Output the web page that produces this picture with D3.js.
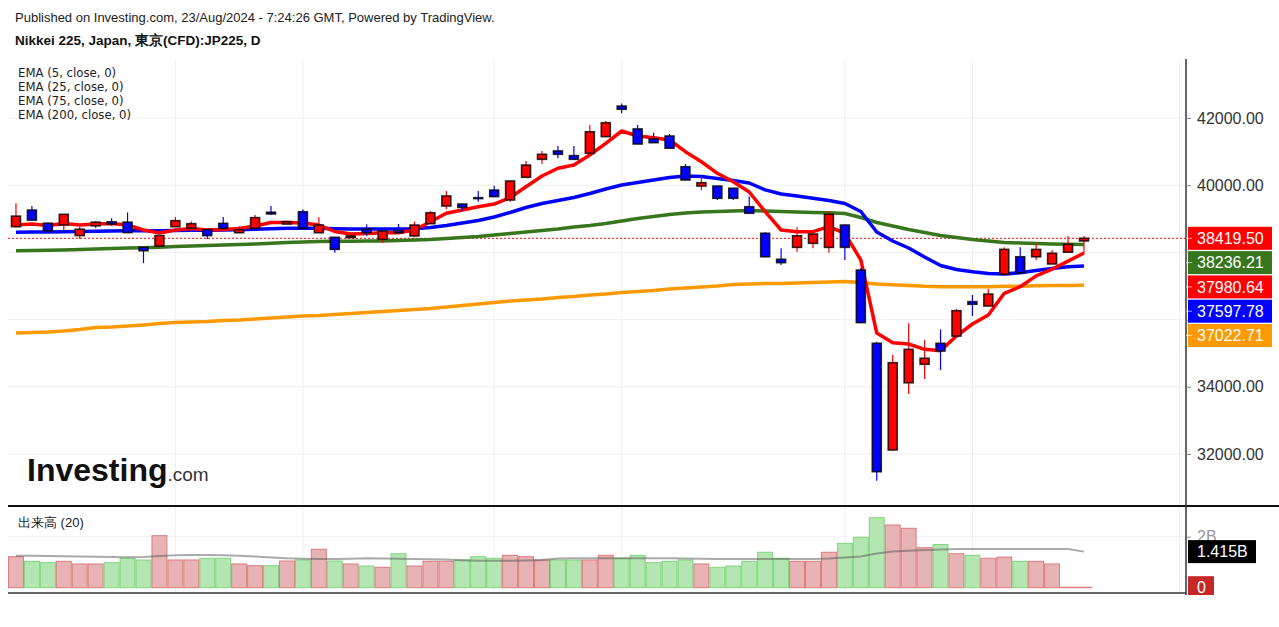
<!DOCTYPE html>
<html lang="ja">
<head>
  <meta charset="UTF-8">
  <title>Nikkei 225 JP225 Daily</title>
  <script src="https://d3js.org/d3.v7.min.js"></script>
  <style>
    body {
      margin: 0;
      background: #fff;
      font-family: "Liberation Sans", Arial, sans-serif;
    }
    svg { display: block; }
    .grid line { stroke: #f0f0f0; stroke-width: 1; }
    .legend text { font-family: "DejaVu Sans Condensed", "DejaVu Sans", sans-serif; font-size: 13px; fill: #222; }
  </style>
</head>
<body>
  <svg width="1279" height="627"></svg>

  <script>
    // daily bars, 20/May/2024 .. 23/Aug/2024 (index 0..67)
    const opens = [38765, 39260, 38870, 38815, 38500, 38790, 38910, 38900, 38150, 38190,
      38765, 38720, 38675, 38865, 38585, 38720, 39195, 38845, 39210, 38585,
      38450, 38440, 38690, 38390, 38645, 38490, 38855, 39380, 39440, 39630,
      39855, 39560, 40235, 40770, 41020, 40880, 40950, 41445, 42355, 41675,
      41375, 41465, 40550, 39975, 39975, 39910, 39360, 38570, 37795, 38150,
      38270, 38150, 38815, 37475, 35295, 32120, 34120, 34670, 35295, 35510,
      36535, 36405, 37350, 37870, 37870, 37655, 38005, 38340];
    const highs = [39460, 39380, 38880, 39140, 38765, 38930, 39015, 39190, 38160, 38500,
      39055, 38925, 38680, 39055, 38785, 39115, 39380, 38930, 39285, 39045,
      38460, 38500, 38835, 38640, 38845, 38915, 39230, 39825, 39450, 39825,
      39985, 40130, 40720, 41020, 41165, 41165, 41790, 41910, 42435, 41790,
      41565, 41525, 40630, 40255, 39980, 39915, 39660, 38600, 38120, 38745,
      38550, 39230, 38830, 37535, 35340, 34945, 35890, 35390, 35710, 36315,
      36730, 36910, 38150, 38150, 38270, 38070, 38490, 38490];
    const lows = [38750, 38960, 38630, 38670, 38400, 38720, 38795, 38585, 37680, 38120,
      38760, 38615, 38400, 38715, 38580, 38715, 39110, 38830, 38715, 38580,
      37990, 38430, 38490, 38290, 38580, 38450, 38850, 39285, 39240, 39510,
      39650, 39510, 40230, 40630, 40800, 40765, 40940, 41440, 42140, 41220,
      41260, 41095, 40150, 39855, 39560, 39560, 39160, 37870, 37625, 38020,
      38120, 37990, 37775, 35900, 31205, 32100, 33785, 34230, 34500, 35500,
      36105, 36400, 37340, 37390, 37775, 37650, 38000, 37980];
    const closes = [39080, 38960, 38640, 39134, 38690, 38900, 38845, 38590, 38050, 38500,
      38945, 38855, 38500, 38715, 38675, 39035, 39145, 38915, 38720, 38815,
      38090, 38490, 38585, 38637, 38585, 38815, 39180, 39680, 39340, 39625,
      39660, 40125, 40600, 40920, 40920, 40770, 41590, 41860, 42260, 41225,
      41265, 41100, 40155, 40075, 39610, 39610, 39165, 37870, 37695, 38495,
      38548, 39135, 38150, 35910, 31473, 34717, 35115, 34850, 35065, 36265,
      36455, 36760, 38090, 37395, 38090, 37975, 38240, 38419.5];

    // EMA values
    const ema5 = [38815, 38845, 38800, 38860, 38815, 38845, 38860, 38815, 38667, 38577,
      38667, 38711, 38667, 38682, 38711, 38786, 38890, 38890, 38875, 38815,
      38622, 38548, 38562, 38586, 38586, 38667, 38914, 39164, 39262, 39360,
      39440, 39634, 39955, 40274, 40503, 40601, 40899, 41247, 41613, 41464,
      41414, 41345, 40997, 40699, 40354, 40104, 39798, 39211, 38667, 38616,
      38616, 38765, 38568, 37774, 35601, 35312, 35274, 35116, 35074, 35512,
      35869, 36137, 36783, 36979, 37300, 37500, 37740, 37980.64];
    const ema25 = [38598, 38607, 38607, 38616, 38622, 38628, 38637, 38646, 38646, 38646,
      38652, 38658, 38658, 38667, 38676, 38687, 38705, 38717, 38717, 38717,
      38705, 38696, 38696, 38696, 38696, 38705, 38741, 38801, 38875, 38949,
      39054, 39187, 39336, 39455, 39545, 39634, 39753, 39887, 40006, 40080,
      40155, 40229, 40274, 40259, 40199, 40140, 40065, 39860, 39738, 39679,
      39610, 39545, 39455, 39217, 38607, 38339, 38131, 37863, 37610, 37491,
      37426, 37372, 37357, 37396, 37461, 37521, 37574, 37597.78];
    const ema75 = [38051, 38057, 38063, 38071, 38086, 38101, 38116, 38131, 38140, 38152,
      38176, 38190, 38205, 38220, 38235, 38250, 38271, 38295, 38310, 38324,
      38330, 38333, 38336, 38339, 38354, 38369, 38384, 38414, 38444, 38473,
      38518, 38563, 38607, 38652, 38696, 38756, 38801, 38860, 38935, 39009,
      39068, 39128, 39173, 39202, 39217, 39232, 39247, 39232, 39217, 39202,
      39187, 39181, 39158, 39039, 38890, 38786, 38682, 38592, 38503, 38444,
      38384, 38339, 38295, 38280, 38265, 38250, 38241, 38236.21];
    const ema200 = [35601, 35616, 35631, 35661, 35705, 35765, 35780, 35810, 35839, 35884,
      35914, 35929, 35943, 35973, 35988, 36018, 36048, 36077, 36107, 36122,
      36152, 36182, 36211, 36241, 36271, 36301, 36330, 36375, 36420, 36464,
      36509, 36554, 36583, 36613, 36658, 36687, 36732, 36762, 36806, 36836,
      36866, 36911, 36940, 36970, 37000, 37045, 37060, 37074, 37074, 37089,
      37104, 37119, 37134, 37104, 37060, 37039, 37015, 36991, 36979, 36976,
      36976, 36979, 36991, 36994, 37006, 37012, 37018, 37022.71];

    // volume (billions) and its 20-day average
    const volume = [1.216, 1.035, 0.98, 1.035, 0.93, 0.93, 0.98, 1.153, 1.086, 2.04,
      1.086, 1.086, 1.153, 1.153, 0.93, 0.863, 0.863, 1.047, 1.086, 1.506,
      1.047, 0.93, 0.85, 0.80, 1.33, 0.85, 1.035, 1.035, 1.086, 1.216,
      1.153, 1.27, 1.216, 1.086, 1.086, 1.086, 1.086, 1.27, 1.153, 1.27,
      0.98, 1.035, 1.086, 0.93, 0.80, 0.85, 1.035, 1.39, 1.153, 1.035,
      1.035, 1.39, 1.74, 1.976, 2.745, 2.46, 2.33, 1.57, 1.69, 1.33,
      1.27, 1.153, 1.20, 1.035, 1.035, 0.93, 0.02, 0.02];
    const volMA = [1.255, 1.251, 1.243, 1.235, 1.224, 1.216, 1.204, 1.196, 1.204, 1.243,
      1.271, 1.282, 1.282, 1.275, 1.255, 1.224, 1.184, 1.153, 1.137, 1.125,
      1.125, 1.137, 1.153, 1.145, 1.137, 1.125, 1.114, 1.106, 1.078, 1.059,
      1.059, 1.059, 1.067, 1.086, 1.145, 1.153, 1.153, 1.153, 1.153, 1.153,
      1.153, 1.153, 1.145, 1.137, 1.125, 1.125, 1.125, 1.125, 1.125, 1.125,
      1.125, 1.145, 1.184, 1.224, 1.341, 1.42, 1.451, 1.478, 1.498, 1.518,
      1.518, 1.518, 1.518, 1.518, 1.518, 1.518, 1.518, 1.415];

    // x ticks (bar index) and labels
    const tickIndex = [10, 18, 30, 38, 52, 60, 73];
    const tickLabels = ["6月", "13", "7月", "", "8月", "", "9月"];
    const priceTicks = [32000, 34000, 36000, 38000, 40000, 42000];

    const emaNames = ["EMA (5, close, 0)", "EMA (25, close, 0)", "EMA (75, close, 0)", "EMA (200, close, 0)"];

    const upColor = "#ff0000", downColor = "#0000ff";
    const emaSeries = [
      {values: ema5, color: "#ff0000"},
      {values: ema25, color: "#0000ff"},
      {values: ema75, color: "#38761d"},
      {values: ema200, color: "#ff9900"}
    ];

    const svg = d3.select("svg");
    const plotL = 8, plotR = 1186;
    const mainTop = 59, mainBot = 506, volTop = 507, volBot = 593;

    const x = d3.scaleLinear().domain([-0.5, 73.4]).range([plotL, plotR]);
    const y = d3.scaleLinear().domain([32000, 42000]).range([454, 118]);
    const yv = d3.scaleLinear().domain([0, 2]).range([587.7, 536.7]);

    const defs = svg.append("defs");
    defs.append("clipPath").attr("id", "clipMain")
      .append("rect").attr("x", plotL).attr("y", mainTop).attr("width", plotR - plotL).attr("height", mainBot - mainTop);
    defs.append("clipPath").attr("id", "clipVol")
      .append("rect").attr("x", plotL).attr("y", volTop).attr("width", plotR - plotL).attr("height", volBot - volTop - 4);
    defs.append("clipPath").attr("id", "clipX")
      .append("rect").attr("x", 0).attr("y", volBot).attr("width", plotR).attr("height", 40);

    // header
    svg.append("text").attr("x", 15).attr("y", 22)
      .style("font-size", "13px").style("fill", "#222")
      .text("Published on Investing.com, 23/Aug/2024 - 7:24:26 GMT, Powered by TradingView.");
    svg.append("text").attr("x", 15).attr("y", 45)
      .style("font-size", "13.5px").style("font-weight", "bold").style("fill", "#111")
      .text("Nikkei 225, Japan, 東京(CFD):JP225, D");

    // grid
    const grid = svg.append("g").attr("class", "grid");
    grid.selectAll(".hg").data(priceTicks).enter().append("line")
      .attr("x1", plotL).attr("x2", plotR)
      .attr("y1", d => y(d)).attr("y2", d => y(d));
    grid.append("line").attr("x1", plotL).attr("x2", plotR)
      .attr("y1", yv(2)).attr("y2", yv(2));
    grid.selectAll(".vg").data(tickIndex).enter().append("line")
      .attr("x1", d => x(d)).attr("x2", d => x(d))
      .attr("y1", mainTop).attr("y2", mainBot);
    grid.selectAll(".vg2").data(tickIndex).enter().append("line")
      .attr("x1", d => x(d)).attr("x2", d => x(d))
      .attr("y1", volTop).attr("y2", volBot);

    // watermark
    const wm = svg.append("text").attr("x", 27).attr("y", 481).style("fill", "#111");
    wm.append("tspan").style("font-size", "32px").style("font-weight", "bold").text("Investing");
    wm.append("tspan").style("font-size", "19px").style("fill", "#333").text(".com");

    const main = svg.append("g").attr("clip-path", "url(#clipMain)");

    // last price line
    main.append("line")
      .attr("x1", plotL).attr("x2", plotR)
      .attr("y1", y(closes[closes.length - 1])).attr("y2", y(closes[closes.length - 1]))
      .attr("stroke", "#ff0000").attr("stroke-width", 1).attr("stroke-dasharray", "2,2");

    // EMA lines
    const line = d3.line().x((d, i) => x(i)).y(d => y(d));
    emaSeries.slice().reverse().forEach(s => {
      main.append("path").datum(s.values)
        .attr("fill", "none").attr("stroke", s.color)
        .attr("stroke-width", 3.5).attr("stroke-linejoin", "round")
        .attr("d", line);
    });

    // candles
    const idx = d3.range(opens.length);
    const candle = main.selectAll(".candle").data(idx).enter().append("g");
    candle.append("line")
      .attr("x1", i => x(i)).attr("x2", i => x(i))
      .attr("y1", i => y(highs[i])).attr("y2", i => y(lows[i]))
      .attr("stroke", i => closes[i] >= opens[i] ? upColor : downColor)
      .attr("stroke-width", 1.2);
    candle.append("rect")
      .attr("x", i => x(i) - 4.5)
      .attr("width", 9)
      .attr("y", i => y(Math.max(opens[i], closes[i])))
      .attr("height", i => Math.max(1, Math.abs(y(opens[i]) - y(closes[i]))))
      .attr("fill", i => closes[i] >= opens[i] ? upColor : downColor)
      .attr("stroke", "#000").attr("stroke-opacity", 0.8).attr("stroke-width", 1.6);

    // legend
    const legend = svg.append("g").attr("class", "legend");
    legend.selectAll("text").data(emaNames).enter().append("text")
      .attr("x", 18).attr("y", (d, i) => 77 + i * 14)
      .text(d => d);

    // volume pane
    const vol = svg.append("g").attr("clip-path", "url(#clipVol)");
    const bw = x(1) - x(0);
    vol.selectAll(".vbar").data(idx).enter().append("rect")
      .attr("x", i => x(i) - bw / 2 + 0.5)
      .attr("width", bw - 1)
      .attr("y", i => yv(volume[i]))
      .attr("height", i => Math.max(0.5, yv(0) - yv(volume[i])))
      .attr("fill", i => closes[i] >= opens[i] ? "#e8b3b4" : "#b4e6b2")
      .attr("stroke", i => closes[i] >= opens[i] ? "#db7c80" : "#80d27d")
      .attr("stroke-width", 1);
    vol.append("path").datum(volMA)
      .attr("fill", "none").attr("stroke", "#555").attr("stroke-opacity", 0.5)
      .attr("stroke-width", 2)
      .attr("d", d3.line().x((d, i) => x(i)).y(d => yv(d)));
    svg.append("text").attr("x", 18).attr("y", 527)
      .style("font-size", "13px").style("fill", "#222")
      .text("出来高 (20)");

    // pane separators and axis lines
    svg.append("line").attr("x1", plotL).attr("x2", 1279).attr("y1", mainBot).attr("y2", mainBot)
      .attr("stroke", "#111").attr("stroke-width", 2);
    svg.append("line").attr("x1", plotL).attr("x2", plotR).attr("y1", volBot).attr("y2", volBot)
      .attr("stroke", "#666").attr("stroke-width", 2);
    svg.append("line").attr("x1", plotR).attr("x2", plotR).attr("y1", mainTop).attr("y2", volBot + 2)
      .attr("stroke", "#333").attr("stroke-width", 1.5);

    // x axis
    const xAxis = svg.append("g")
      .attr("transform", `translate(0,${volBot})`)
      .attr("clip-path", "url(#clipX)")
      .call(d3.axisBottom(x).tickValues(tickIndex).tickFormat((d, i) => tickLabels[i]).tickSize(5).tickPadding(5));
    xAxis.select(".domain").remove();
    xAxis.selectAll(".tick line").attr("stroke", "#555").attr("stroke-width", 1.5);
    xAxis.selectAll(".tick text")
      .style("font-family", "'Liberation Sans', Arial, sans-serif")
      .style("font-size", "14px").style("fill", "#555")
      .style("font-weight", (d, i) => tickLabels[i].includes("月") ? "bold" : "normal");

    // last-value labels on price axis, stacked so they do not overlap
    const lastLabels = [
      {v: closes[closes.length - 1], color: upColor},
      {v: ema75[ema75.length - 1], color: "#38761d"},
      {v: ema5[ema5.length - 1], color: "#ff0000"},
      {v: ema25[ema25.length - 1], color: "#0000ff"},
      {v: ema200[ema200.length - 1], color: "#ff9900"}
    ].sort((a, b) => b.v - a.v);
    const boxH = 23, gap = 24.3;
    let prev = -Infinity;
    lastLabels.forEach(d => {
      d.cy = Math.max(y(d.v), prev + gap);
      prev = d.cy;
    });

    // price axis; labels hidden where a last-value box sits on them
    const yAxis = svg.append("g")
      .attr("transform", `translate(${plotR},0)`)
      .call(d3.axisRight(y).tickValues(priceTicks).tickFormat(d3.format(".2f")).tickSize(5).tickPadding(6));
    yAxis.select(".domain").remove();
    yAxis.selectAll(".tick line").attr("stroke", "#888");
    yAxis.selectAll(".tick text")
      .style("font-family", "'Liberation Sans', Arial, sans-serif")
      .style("font-size", "16px").style("fill", "#333")
      .style("display", d => lastLabels.some(l => Math.abs(l.cy - y(d)) < boxH / 2 + 8) ? "none" : null);

    // volume axis
    const vAxis = svg.append("g")
      .attr("transform", `translate(${plotR},0)`)
      .call(d3.axisRight(yv).tickValues([2]).tickFormat(d => d + "B").tickSize(5).tickPadding(6));
    vAxis.select(".domain").remove();
    vAxis.selectAll(".tick line").attr("stroke", "#888");
    vAxis.selectAll(".tick text")
      .style("font-family", "'Liberation Sans', Arial, sans-serif")
      .style("font-size", "16px").style("fill", "#999");

    const lab = svg.append("g").selectAll("g").data(lastLabels).enter().append("g");
    lab.append("rect")
      .attr("x", plotR + 2).attr("width", 84)
      .attr("y", d => d.cy - boxH / 2).attr("height", boxH)
      .attr("fill", d => d.color);
    lab.append("line")
      .attr("x1", plotR).attr("x2", plotR + 6)
      .attr("y1", d => d.cy).attr("y2", d => d.cy)
      .attr("stroke", "#fff").attr("stroke-opacity", 0.6);
    lab.append("text")
      .attr("x", plotR + 11).attr("y", d => d.cy).attr("dy", "0.36em")
      .style("font-size", "16px").style("fill", "#fff")
      .text(d => d3.format(".2f")(d.v));

    // volume last labels
    const vLast = svg.append("g");
    const maY = yv(volMA[volMA.length - 1]);
    vLast.append("rect").attr("x", plotR + 2).attr("width", 68)
      .attr("y", maY - 11.5).attr("height", 23).attr("fill", "#000");
    vLast.append("text").attr("x", plotR + 11).attr("y", maY).attr("dy", "0.36em")
      .style("font-size", "16px").style("fill", "#fff")
      .text(d3.format(".3f")(volMA[volMA.length - 1]) + "B");
    const v0 = yv(volume[volume.length - 1]);
    vLast.append("rect").attr("x", plotR + 2).attr("width", 26)
      .attr("y", v0 - 11).attr("height", volBot + 2 - (v0 - 11)).attr("fill", "#c62828");
    vLast.append("text").attr("x", plotR + 11).attr("y", yv(0)).attr("dy", "0.36em")
      .style("font-size", "16px").style("fill", "#fff")
      .text("0");
  </script>
</body>
</html>
